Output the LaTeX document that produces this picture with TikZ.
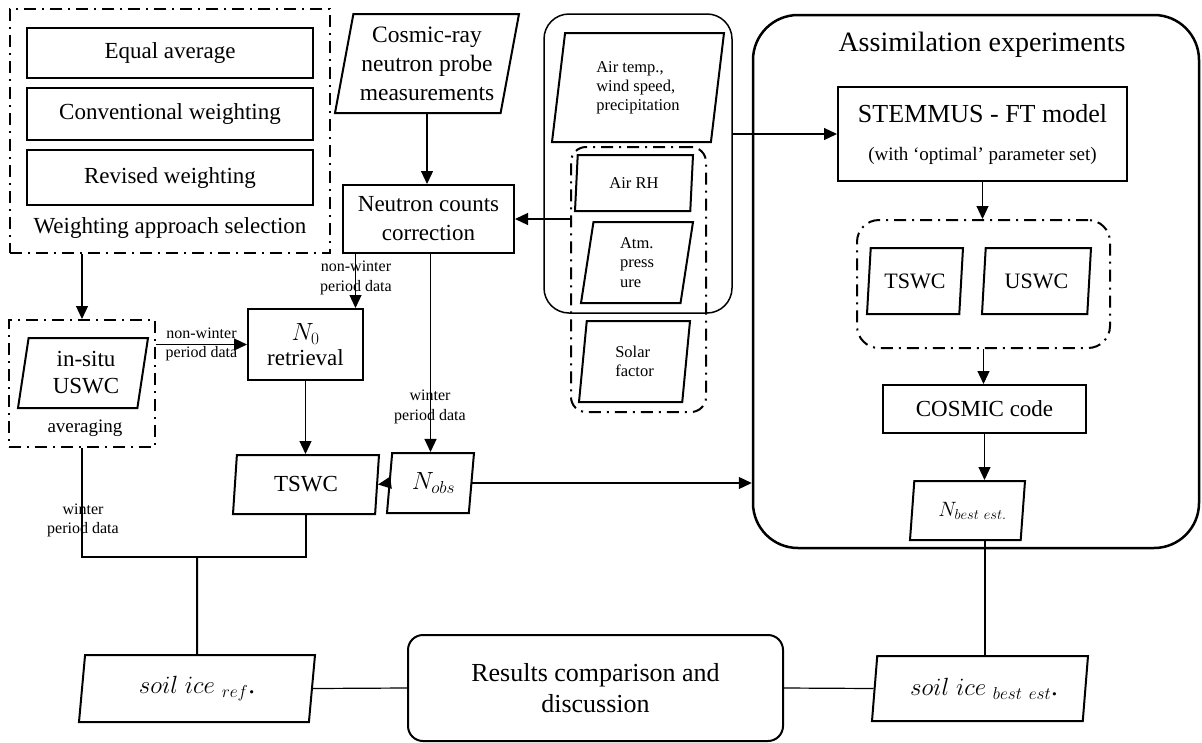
\documentclass[tikz,border=0pt]{standalone}
\usepackage{fontspec}
\setmainfont{Liberation Serif}
\usetikzlibrary{shapes.geometric,arrows.meta}
\newcommand{\fsz}[2]{\fontsize{#1}{#2}\selectfont}

\begin{document}
\begin{tikzpicture}[x=1pt, y=-1pt,
                    box/.style = {draw, line width=2pt, inner sep=2pt, align=center, font=\fsz{23}{29}},
                    para/.style = {draw, line width=2pt, trapezium, trapezium left angle=76, trapezium right angle=104, trapezium stretches body, inner sep=0pt, align=center, font=\fsz{23}{27}},
                    ddbox/.style = {draw, line width=2pt, dash pattern=on 12pt off 6pt on 2pt off 6pt},
                    lbl/.style = {align=center, inner sep=0pt, font=\fsz{16}{19.5}},
                    arr/.style = {-{Triangle[length=13pt, width=12pt]}, line width=1.2pt},
                    conn/.style = {line width=1.2pt},
                    thickconn/.style = {line width=2pt}]
                    \useasboundingbox (0,0) rectangle (1202,742);

                    \node[ddbox, minimum width=320pt, minimum height=244pt] (wsel) at (170,131) {};
                    \node[box, minimum width=286pt, minimum height=50pt] (eq) at (170,53) {Equal average};
                    \node[box, minimum width=286pt, minimum height=52pt] (conv) [node distance=61pt, below of=eq] {Conventional weighting};
                    \node[box, minimum width=286pt, minimum height=55pt] (rev) [node distance=63.5pt, below of=conv] {Revised weighting};
                    \node[font=\fsz{23}{27}] (wtxt) at (170,228) {Weighting approach selection};

                    \node[para, font=\fsz{23.5}{29}, minimum width=184pt, minimum height=99pt] (cosmic) at (427,63.5) {Cosmic-ray\\neutron probe\\measurements};
                    \node[box, minimum width=171pt, minimum height=68pt] (ncc) at (428.5,219) {Neutron counts\\correction};

                    \node[draw, line width=1.5pt, rounded corners=25pt, minimum width=188pt, minimum height=299pt] (metbox) at (638,163.5) {};
                    \node[ddbox, rounded corners=15pt, minimum width=135pt, minimum height=265pt] (metdd) at (638.5,279.5) {};
                    \node[para, font=\fsz{16.5}{19}, align=left, minimum width=172pt, minimum height=109pt] (met) at (638,87.5) {Air temp.,\\wind speed,\\precipitation};
                    \node[para, font=\fsz{16.5}{19}, minimum width=118pt, minimum height=56pt] (rh) at (634,183) {Air RH};
                    \node[para, font=\fsz{16.5}{19.5}, align=left, minimum width=112pt, minimum height=81pt] (atm) at (637,262.5) {Atm.\\press\\ure};
                    \node[para, font=\fsz{16.5}{19.5}, align=left, minimum width=111pt, minimum height=81pt] (solar) at (634.5,361.5) {Solar\\factor};

                    \node[ddbox, minimum width=146pt, minimum height=127pt] (insitubox) at (82,383.5) {};
                    \node[para, minimum width=130pt, minimum height=70pt] (insitu) at (83,373) {\hspace*{6pt}in-situ\\\hspace*{6pt}USWC};
                    \node[font=\fsz{19}{22}] (avg) at (85,428) {averaging};
                    \node[box, font=\fsz{23}{25}, minimum width=115pt, minimum height=71pt] (n0) at (305.5,344.5) {$N_0$\\retrieval};
                    \node[para, minimum width=146pt, minimum height=59pt] (tswc) at (306,484.5) {TSWC};
                    \node[para, minimum width=87pt, minimum height=60pt] (nobs) at (430.5,483) {\hspace*{6pt}$N_{obs}$};

                    \node[draw, line width=2.5pt, rounded corners=45pt, minimum width=446pt, minimum height=533pt] (assim) at (976,281.5) {};
                    \node[font=\fsz{28}{32}] (atitle) at (982,45) {Assimilation experiments};
                    \node[box, font=\fsz{26}{30}, minimum width=289pt, minimum height=94pt] (model) at (982.5,134) {STEMMUS - FT model\\[8pt]\fsz{19}{22}(with `optimal' parameter set)};
                    \node[ddbox, rounded corners=22pt, minimum width=253pt, minimum height=128pt] (simbox) at (983.5,284) {};
                    \node[para, font=\fsz{22}{26}, minimum width=96pt, minimum height=66pt] (tswcsim) at (915,281) {TSWC};
                    \node[para, font=\fsz{22}{26}, minimum width=109pt, minimum height=66pt] (uswcsim) [node distance=121.5pt, right of=tswcsim] {USWC};
                    \node[box, minimum width=203pt, minimum height=48pt] (code) at (984.5,409) {COSMIC code};
                    \node[para, font=\fsz{20}{24}, minimum width=115pt, minimum height=59pt] (nbest) at (967.5,510.5) {\hspace*{10pt}$N_{best\ est.}$};

                    \node[para, font=\fsz{27}{31}, minimum width=236pt, minimum height=67pt] (soilref) at (197,688.5) {$soil\ ice_{\ ref}$.};
                    \node[para, font=\fsz{27}{31}, minimum width=216pt, minimum height=65pt] (soilbest) at (980,688.5) {\hspace*{8pt}$soil\ ice_{\ best\ est}$.};
                    \node[box, rounded corners=15pt, font=\fsz{26}{31}, minimum width=375pt, minimum height=106pt] (results) at (595.5,688) {Results comparison and\\discussion};

                    \node[lbl] (l1) at (201.5,344.5) {non-winter\\period data};
                    \node[lbl] (l2) at (356,278) {non-winter\\period data};
                    \node[lbl] (l3) at (430,407) {winter\\period data};
                    \node[lbl] (l4) at (83,520.5) {winter\\period data};
                    \coordinate (joint) at (197,557);


                    \draw[arr] (cosmic.south) -- (cosmic.south |- ncc.north);
                    \draw[arr] (metdd.west |- ncc.east) -- (ncc.east);
                    \draw[arr] (metbox.east |- model.west) -- (model.west);
                    \draw[arr] (model.south) -- (model.south |- simbox.north);
                    \draw[arr] (simbox.south) -- (simbox.south |- code.north);
                    \draw[arr] (code.south) -- (code.south |- nbest.north);
                    \draw[thickconn] (code.south |- nbest.south) -- (code.south |- soilbest.north);
                    \draw[conn] (soilbest.west) -- (results.east);
                    \draw[conn] (soilref.east) -- (results.west);
                    \draw[arr] (wsel.south -| insitubox.north) -- (insitubox.north);
                    \draw[arr] (insitubox.east |- n0.west) -- (n0.west);
                    \draw[arr] ([xshift=50pt]n0.north |- ncc.south) -- ([xshift=50pt]n0.north);
                    \draw[arr] (nobs.north |- ncc.south) -- (nobs.north);
                    \draw[arr] (n0.south) -- (n0.south |- tswc.north);
                    \draw[arr] (nobs.west) -- (tswc.east);
                    \draw[arr] (nobs.east) -- (nobs.east -| assim.west);
                    \draw[conn] (insitubox.south) |- (joint) -| (tswc.south);
                    \draw[thickconn] (joint) -- (soilref.north);
                \end{tikzpicture}
\end{document}
